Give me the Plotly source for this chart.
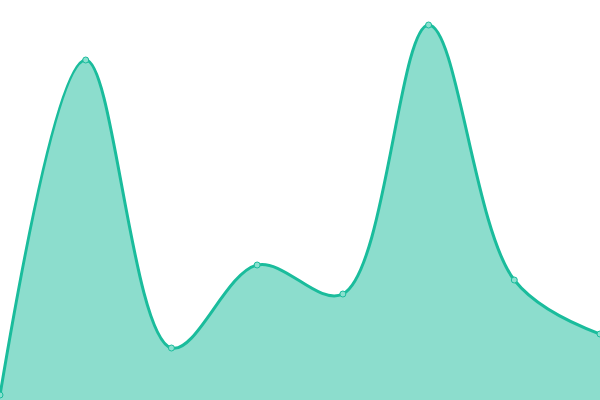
import plotly.graph_objects as go

x_vals = [0, 1, 2, 3, 4, 5, 6, 7]
y_vals = [5, 340, 52, 135, 106, 375, 120, 66]

line_color = "#1abc9c"
fill_color = "rgba(26,188,156,0.5)"

fig = go.Figure()
fig.add_trace(go.Scatter(
    x=x_vals, y=y_vals,
    mode="lines+markers",
    line=dict(shape="spline", smoothing=1.0, color=line_color, width=3),
    fill="tozeroy", fillcolor=fill_color,
    marker=dict(size=6, color="#8ae0cf", line=dict(color=line_color, width=1)),
    hoverinfo="skip",
))
fig.update_layout(
    width=600, height=400,
    margin=dict(l=0, r=0, t=0, b=0),
    paper_bgcolor="white", plot_bgcolor="white",
    showlegend=False,
    hovermode=False,
    xaxis=dict(visible=False, range=[0, 7]),
    yaxis=dict(visible=False, range=[0, 400]),
)
fig.write_html(
    "out.html",
    config={"displayModeBar": False, "staticPlot": True},
    post_script="document.body.style.margin='0';document.body.style.overflow='hidden';",
)
